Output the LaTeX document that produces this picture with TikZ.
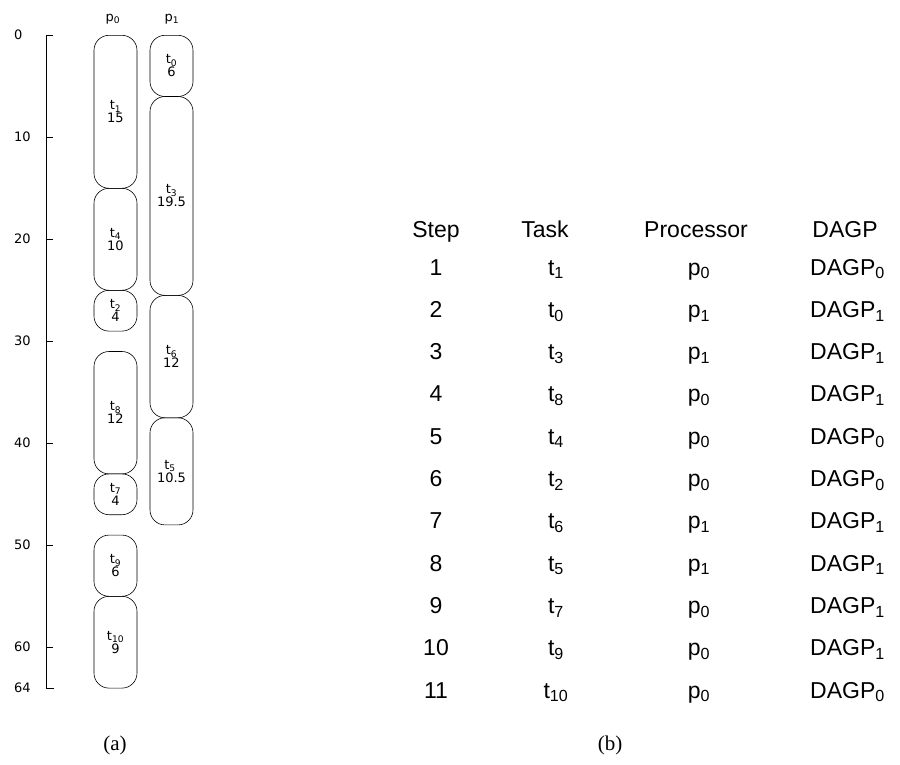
\documentclass[tikz,border=0pt]{standalone}
\usepackage{fontspec}
\setmainfont{Liberation Sans}
\newfontfamily\chartfont{DejaVu Sans}
\newfontfamily\capfont{Liberation Serif}
\usetikzlibrary{positioning,calc}

\begin{document}
\begin{tikzpicture}[x=1pt, y=-1pt,
  every node/.style={inner sep=0pt},
  taskbox/.style={draw, line width=0.6pt, rounded corners=15pt, minimum width=43pt,
    anchor=north, align=center, font=\chartfont\fontsize{13}{15}\selectfont},
  axislab/.style={anchor=west, font=\chartfont\fontsize{13}{15}\selectfont},
  cell/.style={anchor=base, font=\fontsize{23}{26}\selectfont},
  caption/.style={font=\capfont\fontsize{21}{24}\selectfont}
]
\useasboundingbox (0,0) rectangle (900,764);
% time axis
\draw[line width=0.8pt] (53,35) -- (46,35) -- (46,688) -- (54,688);
\foreach \v in {10,20,...,60}
  \draw[line width=0.8pt] (46,{35+\v*10.2}) -- (53,{35+\v*10.2});
\foreach \v in {0,10,20,...,60,64}
  \node[axislab] (ax\v) at (14,{35+\v*10.2}) {\v};
% processors
\node[font=\chartfont\fontsize{13}{15}\selectfont] (p0) at (113,19) {p\textsubscript{0}};
\node[font=\chartfont\fontsize{13}{15}\selectfont] (p1) at (172,19) {p\textsubscript{1}};
% schedule: x / start / length / name / label
\foreach \x/\s/\d/\name/\lab in {
  115.5/0/15/t1/1,
  115.5/15/10/t4/4,
  115.5/25/4/t2/2,
  115.5/31/12/t8/8,
  115.5/43/4/t7/7,
  115.5/49/6/t9/9,
  115.5/55/9/t10/10,
  171.5/0/6/t0/0,
  171.5/6/19.5/t3/3,
  171.5/25.5/12/t6/6,
  171.5/37.5/10.5/t5/5
}{
  \node[taskbox, minimum height={\d*10.2pt}] (\name) at (\x,{35+\s*10.2})
    {t\textsubscript{\lab}\\[-2pt]\d};
}
% table
\node[cell] (hstep) at (436,237) {Step};
\node[cell] (htask) at (545,237) {Task};
\node[cell] (hproc) at (696,237) {Processor};
\node[cell] (hdagp) at (845,237) {DAGP};
\foreach \k/\tk/\pr/\dg in {
  1/1/0/0, 2/0/1/1, 3/3/1/1, 4/8/0/1, 5/4/0/0, 6/2/0/0,
  7/6/1/1, 8/5/1/1, 9/7/0/1, 10/9/0/1, 11/10/0/0
}{
  \node[cell] (step\k) at (436,{275+(\k-1)*42.3}) {\k};
  \node[cell] (task\k) at (556,{275+(\k-1)*42.3}) {t\textsubscript{\tk}};
  \node[cell] (proc\k) at (699,{275+(\k-1)*42.3}) {p\textsubscript{\pr}};
  \node[cell, anchor=base west] (dagp\k) at (810,{275+(\k-1)*42.3}) {DAGP\textsubscript{\dg}};
}
\node[caption] (capa) at (115,745) {(a)};
\node[caption] (capb) at (610,745) {(b)};
\end{tikzpicture}
\end{document}
